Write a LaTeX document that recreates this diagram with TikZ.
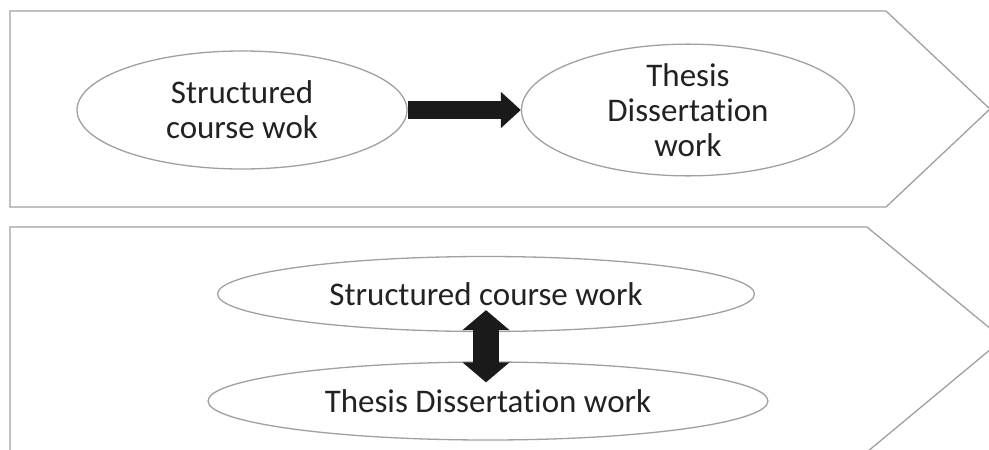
\documentclass[tikz,border=0pt]{standalone}
\usepackage{fontspec}
\setmainfont{Carlito}[Ligatures=NoCommon]
\usepackage{tikz}
\usetikzlibrary{positioning, arrows.meta, shapes.geometric, calc}

\definecolor{edgegray}{HTML}{A0A0A0}
\definecolor{arrowblack}{HTML}{1A1A1A}
\definecolor{textblack}{HTML}{222222}

\begin{document}
\begin{tikzpicture}[
    x=1pt, y=-1pt,
    every node/.style={font=\fontsize{33}{35}\selectfont, text=textblack},
    band/.style={draw=edgegray, line width=1.3pt, fill=white},
    oval/.style={draw=edgegray, ellipse, line width=1.3pt, fill=white, inner sep=0pt, align=center},
    fatarrow/.style={-{Triangle[length=20pt, width=35pt]}, line width=18pt, draw=arrowblack},
    dblarrow/.style={{Triangle[length=20pt, width=46pt]}-{Triangle[length=20pt, width=46pt]}, line width=26pt, draw=arrowblack},
  ]
  \useasboundingbox (0,0) rectangle (989,450);

  % --- Chevron bands ---
  \draw[band] (10,11) -- (886,11) -- (990,109) -- (886,207) -- (10,207) -- cycle;
  \draw[band] (10,227) -- (867,227) -- (1003,339) -- (867,452) -- (10,452) -- cycle;

  % --- Sequential model ---
  \node[oval, minimum width=330pt, minimum height=118pt] (course) at (242,110) {Structured\\course wok};
  \node[oval, minimum width=333pt, minimum height=118pt] (thesis) at (688,110) {Thesis\\Dissertation\\work};

  % --- Integrated model ---
  \node[oval, minimum width=537pt, minimum height=75pt] (coursework) at (486,294) {Structured course work};
  \node[oval, minimum width=560pt, minimum height=78pt] (thesiswork) at (488,401) {Thesis Dissertation work};

  % --- Arrows ---
  \draw[fatarrow] (course.east) -- (thesis.west);
  \draw[dblarrow] ([yshift=22pt]coursework.south) -- ([yshift=-21pt]coursework.south |- thesiswork.north);

\end{tikzpicture}
\end{document}
